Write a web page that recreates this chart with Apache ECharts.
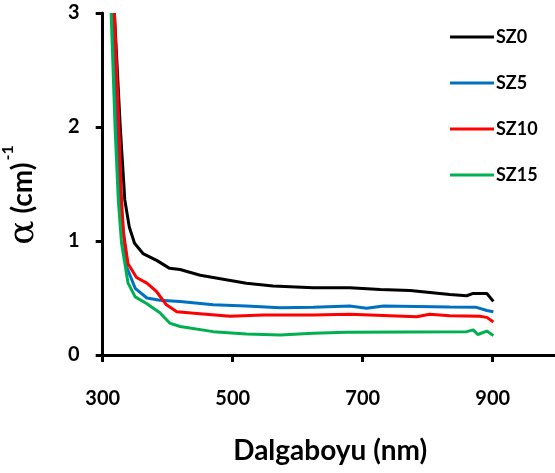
<!DOCTYPE html>
<html>
<head>
<meta charset="utf-8">
<script src="https://cdn.jsdelivr.net/npm/echarts@6/dist/echarts.min.js"></script>
<style>
  html, body { margin: 0; padding: 0; background: #fff; }
  #chart { width: 555px; height: 473px; }
</style>
</head>
<body>
<div id="chart"></div>
<script>
// Absorption coefficient vs wavelength for four samples
const seriesNames = ['SZ0', 'SZ5', 'SZ10', 'SZ15'];
const seriesColors = ['#000000', '#0070C0', '#FF0000', '#00B050'];

const wlSZ0 = [318, 327, 334, 341, 349, 362, 383, 403, 419, 450, 490, 521, 562, 624, 680, 727, 773, 834, 860, 870, 891, 901];
const aSZ0  = [3.0, 2.0, 1.36, 1.12, 0.98, 0.89, 0.83, 0.76, 0.75, 0.70, 0.66, 0.63, 0.605, 0.59, 0.59, 0.575, 0.565, 0.53, 0.52, 0.54, 0.54, 0.47];

const wlSZ5 = [316, 322, 327, 337, 350, 368, 388, 419, 470, 521, 573, 624, 680, 706, 732, 834, 875, 891, 901];
const aSZ5  = [3.0, 2.0, 1.36, 0.77, 0.585, 0.50, 0.48, 0.47, 0.44, 0.43, 0.415, 0.418, 0.43, 0.41, 0.43, 0.42, 0.418, 0.39, 0.38];

const wlSZ10 = [318, 325, 329, 332, 339, 352, 368, 383, 398, 414, 445, 496, 547, 624, 680, 783, 803, 834, 880, 891, 901];
const aSZ10  = [3.0, 2.0, 1.36, 1.07, 0.80, 0.68, 0.63, 0.555, 0.44, 0.38, 0.365, 0.34, 0.35, 0.35, 0.357, 0.336, 0.357, 0.345, 0.34, 0.33, 0.29];

const wlSZ15 = [313, 319, 324, 329, 339, 350, 368, 388, 403, 419, 470, 521, 573, 624, 675, 860, 870, 877, 891, 901];
const aSZ15  = [3.0, 2.0, 1.36, 0.98, 0.63, 0.51, 0.45, 0.37, 0.28, 0.25, 0.205, 0.185, 0.175, 0.19, 0.20, 0.205, 0.22, 0.18, 0.21, 0.17];

const xTicks = [300, 500, 700, 900];
const yTicks = [0, 1, 2, 3];

const wls = [wlSZ0, wlSZ5, wlSZ10, wlSZ15];
const vals = [aSZ0, aSZ5, aSZ10, aSZ15];

const FONT = 'Lato, "Open Sans", sans-serif';

const chart = echarts.init(document.getElementById('chart'), null, { renderer: 'canvas' });

chart.setOption({
  animation: false,
  backgroundColor: '#ffffff',
  grid: { left: 102.7, top: 13, width: 455, height: 342, containLabel: false, outerBoundsMode: 'none' },
  legend: {
    orient: 'vertical',
    left: 445,
    top: 23,
    itemWidth: 44,
    itemHeight: 3,
    itemGap: 28,
    icon: 'rect',
    textStyle: { color: '#000', fontFamily: FONT, fontWeight: 'bold', fontSize: 18, padding: [0, 0, 0, -3] },
    data: seriesNames
  },
  xAxis: {
    type: 'value',
    min: 300,
    max: 1000,
    interval: 200,
    name: 'Dalgaboyu (nm)',
    nameLocation: 'middle',
    nameGap: 82,
    nameTextStyle: { color: '#000', fontFamily: FONT, fontWeight: 'bold', fontSize: 28 },
    axisLine: { lineStyle: { color: '#000', width: 3 } },
    axisTick: { show: true, length: 7, lineStyle: { color: '#000', width: 3 } },
    axisLabel: {
      margin: 34,
      color: '#000',
      fontFamily: FONT,
      fontWeight: 'bold',
      fontSize: 20,
      formatter: v => (xTicks.includes(v) ? String(v) : '')
    },
    splitLine: { show: false }
  },
  yAxis: {
    type: 'value',
    min: 0,
    max: 3,
    interval: 1,
    name: '{al|α}{a| (cm)}{s|-1}',
    nameLocation: 'middle',
    nameGap: 61,
    nameTextStyle: {
      padding: [0, 22, 0, 0],
      rich: {
        al: { color: '#000', fontFamily: '"DejaVu Serif", serif', fontSize: 36, lineHeight: 40, verticalAlign: 'bottom' },
        a: { color: '#000', fontFamily: FONT, fontWeight: 'bold', fontSize: 28, lineHeight: 40, verticalAlign: 'bottom', padding: [0, 0, 5, 0] },
        s: { color: '#000', fontFamily: FONT, fontWeight: 'bold', fontSize: 16, verticalAlign: 'top', padding: [0, 0, 26, 2] }
      }
    },
    axisLine: { show: true, lineStyle: { color: '#000', width: 3 } },
    axisTick: { show: true, length: 7, lineStyle: { color: '#000', width: 3 } },
    axisLabel: {
      margin: 23,
      color: '#000',
      fontFamily: FONT,
      fontWeight: 'bold',
      fontSize: 20,
      formatter: v => (yTicks.includes(v) ? String(v) : '')
    },
    splitLine: { show: false }
  },
  series: seriesNames.map((name, i) => ({
    name,
    type: 'line',
    data: wls[i].map((w, j) => [w, vals[i][j]]),
    showSymbol: false,
    symbol: 'none',
    clip: true,
    lineStyle: { color: seriesColors[i], width: 3 },
    itemStyle: { color: seriesColors[i] },
    z: 2 + i
  }))
});
</script>
</body>
</html>
